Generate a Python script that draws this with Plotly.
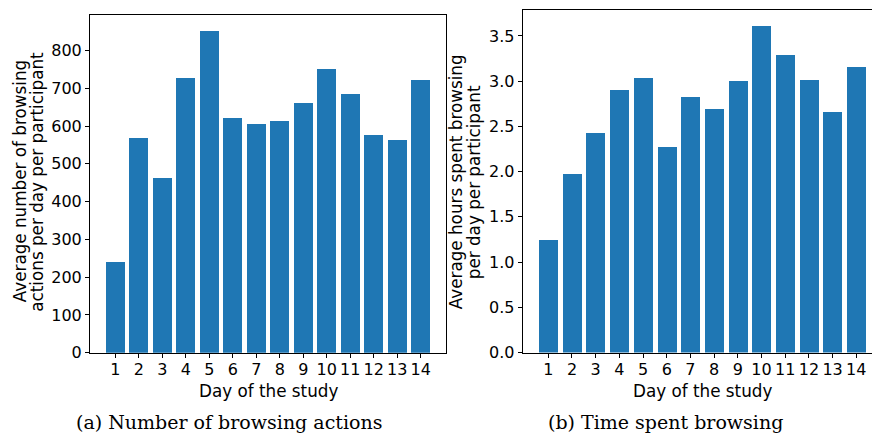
import plotly.graph_objects as go

days = list(range(1, 15))
day_labels = [str(d) for d in days]
actions = [240, 568, 464, 728, 852, 622, 606, 614, 663, 753, 686, 578, 563, 723]
hours = [1.25, 1.98, 2.43, 2.90, 3.04, 2.27, 2.83, 2.69, 3.01, 3.61, 3.29, 3.02, 2.66, 3.16]

BAR = "#1f77b4"
SANS = "DejaVu Sans"
SERIF = "DejaVu Serif"
W, H = 872, 440
FS = 16      # tick labels
FT = 16.8    # axis titles

fig = go.Figure()
fig.add_trace(go.Bar(x=days, y=actions, marker_color=BAR, marker_line_width=0,
                     width=0.8, xaxis="x", yaxis="y", showlegend=False))
fig.add_trace(go.Bar(x=days, y=hours, marker_color=BAR, marker_line_width=0,
                     width=0.8, xaxis="x2", yaxis="y2", showlegend=False))

tickfont = dict(family=SANS, size=FS, color="#000000")
common_x = dict(tickmode="array", tickvals=days, ticktext=day_labels, ticks="outside",
                ticklen=4, tickwidth=1, tickcolor="black", showline=True, linecolor="black",
                linewidth=1, showgrid=False, zeroline=False, tickfont=tickfont,
                ticklabelstandoff=-2)
common_y = dict(ticks="outside", ticklen=4, tickwidth=1, tickcolor="black", showline=True,
                linecolor="black", linewidth=1, showgrid=False, zeroline=False, tickfont=tickfont)

fig.update_layout(
    width=W, height=H, margin=dict(l=0, r=0, t=0, b=0),
    paper_bgcolor="white", plot_bgcolor="white", bargap=0,
    xaxis=dict(domain=[90 / W, 446 / W], range=[-0.08, 15.08], mirror=True, anchor="y", **common_x),
    yaxis=dict(domain=[(H - 361) / H, (H - 15) / H], range=[0, 894.6], mirror=True, anchor="x",
               tickvals=[0, 100, 200, 300, 400, 500, 600, 700, 800], **common_y),
    xaxis2=dict(domain=[522.7 / W, 1.0], range=[-0.08, 14.665], mirror=True, anchor="y2", **common_x),
    yaxis2=dict(domain=[(H - 360.7) / H, (H - 10) / H], range=[0, 3.79], anchor="x2",
                tickvals=[0, 0.5, 1, 1.5, 2, 2.5, 3, 3.5], tickformat=".1f", **common_y),
)

def ann(text, x, y, size, family=SANS, angle=0):
    fig.add_annotation(text=text, x=x / W, y=1 - y / H, xref="paper", yref="paper",
                       showarrow=False, textangle=angle, xanchor="center", yanchor="middle",
                       font=dict(family=family, size=size, color="black"))

# y-axis titles (two lines each)
ann("Average number of browsing", 19.5, 186, FT, angle=-90)
ann("actions per day per participant", 37, 186, FT, angle=-90)
ann("Average hours spent browsing", 456, 186.5, FT, angle=-90)
ann("per day per participant", 474, 186.5, FT, angle=-90)

# x-axis titles
ann("Day of the study", 268, 400.5, FT)
ann("Day of the study", 702, 400.5, FT)

# captions
ann("(a) Number of browsing actions", 228.5, 431.5, 19, family=SERIF)
ann("(b) Time spent browsing", 665.5, 431.5, 19, family=SERIF)

fig.write_html("out.html")
